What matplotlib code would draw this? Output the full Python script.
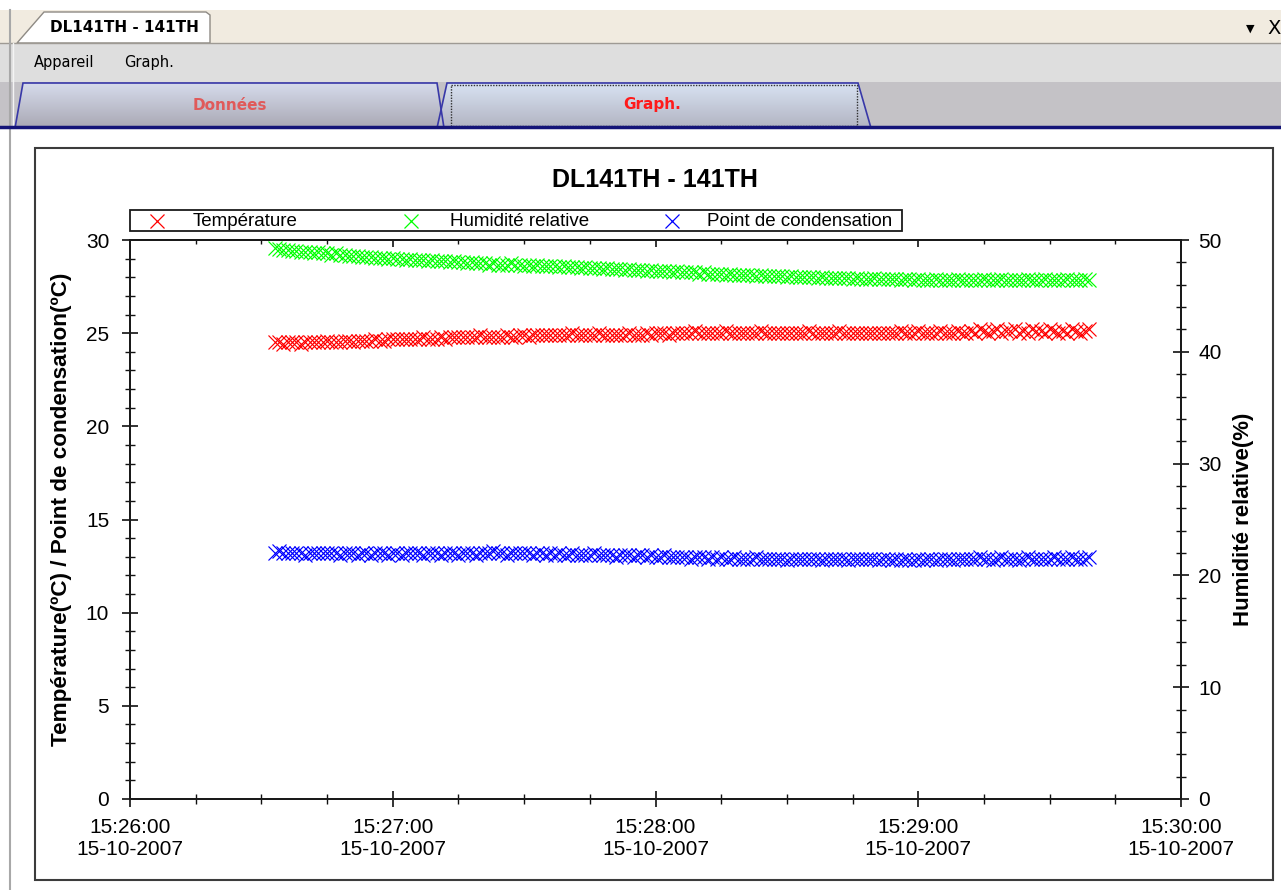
import numpy as np
import matplotlib
matplotlib.use("Agg")
import matplotlib.pyplot as plt
from matplotlib.patches import Polygon, Rectangle
from matplotlib.ticker import FixedLocator, MultipleLocator

plt.rcParams["font.family"] = ["Liberation Sans", "DejaVu Sans"]

# ---- data -------------------------------------------------------------
title = "DL141TH - 141TH"
series_names = ["Température", "Humidité relative", "Point de condensation"]
series_colors = ["#ff0000", "#00ff00", "#0000ff"]

# seconds after 15:26:00, one reading per second from 15:26:33
first_reading = 33
xtick_seconds = [0, 60, 120, 180, 240]
xtick_labels = ["15:26:00\n15-10-2007", "15:27:00\n15-10-2007", "15:28:00\n15-10-2007",
                "15:29:00\n15-10-2007", "15:30:00\n15-10-2007"]

temperature = [
    24.5, 24.5, 24.4, 24.5, 24.5, 24.5, 24.4, 24.5, 24.5, 24.5, 24.5, 24.5, 24.6, 24.5, 24.5, 24.5, 24.6, 24.6, 24.5, 24.6,
    24.6, 24.6, 24.6, 24.7, 24.6, 24.6, 24.7, 24.7, 24.7, 24.7, 24.7, 24.7, 24.7, 24.7, 24.8, 24.7, 24.7, 24.7, 24.8, 24.7,
    24.8, 24.8, 24.8, 24.8, 24.8, 24.8, 24.8, 24.9, 24.8, 24.8, 24.8, 24.8, 24.8, 24.9, 24.8, 24.8, 24.9, 24.9, 24.8, 24.9,
    24.9, 24.9, 24.9, 24.9, 24.9, 24.9, 24.9, 24.9, 25.0, 24.9, 24.9, 24.9, 24.9, 24.9, 25.0, 24.9, 24.9, 24.9, 24.9, 24.9,
    24.9, 25.0, 24.9, 24.9, 24.9, 25.0, 24.9, 25.0, 25.0, 25.0, 24.9, 25.0, 25.0, 25.0, 25.0, 25.0, 25.1, 25.0, 25.0, 25.0,
    25.0, 25.0, 25.0, 25.1, 25.0, 25.0, 25.0, 25.0, 25.0, 25.0, 25.0, 25.1, 25.0, 25.0, 25.0, 25.0, 25.0, 25.0, 25.0, 25.0,
    25.0, 25.0, 25.1, 25.0, 25.0, 25.0, 25.0, 25.0, 25.0, 25.1, 25.0, 25.0, 25.0, 25.0, 25.0, 25.0, 25.0, 25.0, 25.0, 25.0,
    25.0, 25.0, 25.0, 25.1, 25.0, 25.0, 25.0, 25.1, 25.0, 25.0, 25.0, 25.0, 25.1, 25.0, 25.0, 25.0, 25.1, 25.0, 25.0, 25.1,
    25.0, 25.2, 25.1, 25.0, 25.1, 25.2, 25.0, 25.1, 25.1, 25.2, 25.0, 25.1, 25.0, 25.2, 25.1, 25.1, 25.0, 25.2, 25.1, 25.0,
    25.1, 25.0, 25.2, 25.1, 25.0, 25.1, 25.2,
]

humidity = [
    49.3, 49.2, 49.1, 49.1, 49.0, 49.0, 48.9, 48.9, 48.9, 48.8, 48.9, 48.8, 48.8, 48.7, 48.8, 48.7, 48.7, 48.6, 48.6, 48.6,
    48.5, 48.5, 48.5, 48.4, 48.4, 48.4, 48.3, 48.4, 48.3, 48.3, 48.2, 48.3, 48.2, 48.2, 48.2, 48.1, 48.2, 48.1, 48.1, 48.1,
    48.0, 48.1, 48.0, 48.0, 47.9, 48.0, 47.9, 47.9, 47.9, 47.8, 47.9, 47.8, 47.8, 47.8, 47.9, 47.8, 47.8, 47.7, 47.8, 47.7,
    47.8, 47.7, 47.7, 47.7, 47.7, 47.6, 47.7, 47.6, 47.6, 47.6, 47.5, 47.6, 47.5, 47.5, 47.5, 47.4, 47.5, 47.4, 47.4, 47.4,
    47.3, 47.4, 47.3, 47.3, 47.3, 47.2, 47.3, 47.2, 47.2, 47.2, 47.2, 47.1, 47.2, 47.1, 47.1, 47.1, 47.1, 47.0, 47.1, 47.0,
    47.0, 47.0, 47.0, 46.9, 47.0, 46.9, 46.9, 46.9, 46.9, 46.9, 46.8, 46.9, 46.8, 46.8, 46.8, 46.8, 46.8, 46.7, 46.8, 46.7,
    46.7, 46.7, 46.7, 46.7, 46.6, 46.7, 46.6, 46.6, 46.6, 46.6, 46.6, 46.6, 46.5, 46.6, 46.5, 46.5, 46.5, 46.6, 46.5, 46.5,
    46.5, 46.5, 46.5, 46.4, 46.5, 46.5, 46.4, 46.5, 46.4, 46.4, 46.4, 46.5, 46.4, 46.4, 46.4, 46.4, 46.5, 46.4, 46.4, 46.4,
    46.4, 46.4, 46.5, 46.4, 46.4, 46.4, 46.5, 46.4, 46.4, 46.4, 46.4, 46.4, 46.5, 46.4, 46.4, 46.4, 46.5, 46.4, 46.4, 46.4,
    46.4, 46.5, 46.4, 46.4, 46.4, 46.5, 46.4,
]

dew_point = [
    13.2, 13.3, 13.2, 13.2, 13.2, 13.2, 13.2, 13.1, 13.2, 13.2, 13.2, 13.2, 13.2, 13.2, 13.2, 13.1, 13.2, 13.2, 13.2, 13.1,
    13.2, 13.2, 13.1, 13.2, 13.2, 13.2, 13.1, 13.2, 13.2, 13.1, 13.2, 13.2, 13.2, 13.2, 13.1, 13.2, 13.2, 13.2, 13.1, 13.2,
    13.2, 13.2, 13.1, 13.2, 13.2, 13.2, 13.1, 13.2, 13.2, 13.2, 13.3, 13.2, 13.2, 13.1, 13.2, 13.2, 13.2, 13.2, 13.2, 13.1,
    13.2, 13.2, 13.1, 13.2, 13.1, 13.2, 13.1, 13.1, 13.2, 13.1, 13.1, 13.1, 13.1, 13.2, 13.1, 13.1, 13.1, 13.1, 13.0, 13.1,
    13.1, 13.1, 13.0, 13.1, 13.1, 13.0, 13.1, 13.0, 13.0, 13.1, 13.0, 13.0, 13.0, 13.0, 13.0, 12.9, 13.0, 13.0, 13.0, 12.9,
    13.0, 12.9, 13.0, 12.9, 12.9, 13.0, 12.9, 12.9, 12.9, 12.9, 13.0, 12.9, 12.9, 12.9, 12.9, 12.9, 12.9, 12.8, 12.9, 12.9,
    12.9, 12.9, 12.9, 12.9, 12.9, 12.8, 12.9, 12.9, 12.9, 12.9, 12.9, 12.8, 12.9, 12.9, 12.9, 12.9, 12.9, 12.9, 12.8, 12.9,
    12.9, 12.8, 12.9, 12.8, 12.9, 12.8, 12.8, 12.9, 12.8, 12.9, 12.9, 12.8, 12.9, 12.9, 12.9, 12.8, 12.9, 12.9, 12.9, 12.9,
    12.9, 13.0, 12.9, 12.9, 12.8, 12.9, 13.0, 12.9, 12.9, 12.9, 12.8, 12.9, 13.0, 12.9, 12.9, 12.9, 12.9, 12.9, 13.0, 12.9,
    12.9, 12.9, 13.0, 12.9, 12.9, 12.9, 13.0,
]

# ---- figure + window chrome (pixel coordinates) -------------------------
W, H = 1281, 890
fig = plt.figure(figsize=(W / 100, H / 100), dpi=100)
bg = fig.add_axes([0, 0, 1, 1], zorder=0)
bg.set_xlim(0, W)
bg.set_ylim(H, 0)
bg.axis("off")


def px_box(x0, y0, x1, y1):
    return [x0 / W, 1 - y1 / H, (x1 - x0) / W, (y1 - y0) / H]


bg.add_patch(Rectangle((0, 10), W, 33, color="#f1ebe0", lw=0))
bg.add_patch(Rectangle((0, 43), W, 39, color="#dedede", lw=0))
bg.add_patch(Rectangle((0, 82), W, 46, color="#c4c2c6", lw=0))
bg.plot([0, W], [42.5, 42.5], color="#9e9a94", lw=1)
bg.plot([10, 10], [10, H], color="#a8a8a8", lw=1.5)
bg.plot([13, 13], [43, 128], color="#f4f4f4", lw=1)

# document tab
doc_tab = Polygon([(17, 43), (44, 12), (206, 12), (210, 15), (210, 43)],
                  closed=True, fc="white", ec="#8e8a84", lw=1)
bg.add_patch(doc_tab)
bg.text(124, 27, title, ha="center", va="center", fontsize=11, fontweight="bold",
        family="DejaVu Sans")
bg.text(1250, 29, "\u25bc", ha="center", va="center", fontsize=8, family="DejaVu Sans")
bg.text(1274, 28, "X", ha="center", va="center", fontsize=14, family="DejaVu Sans")

# menu
bg.text(34, 62, "Appareil", ha="left", va="center", fontsize=10.5, family="DejaVu Sans")
bg.text(124, 62, "Graph.", ha="left", va="center", fontsize=10.5, family="DejaVu Sans")

# page tabs with a vertical gradient
grad = np.linspace(0, 1, 64).reshape(-1, 1)
tabs = [
    ([(15, 128), (23, 83), (437, 83), (444, 128)], "Données", "#e05a5a", ("#d6dbeb", "#a9a8b4")),
    ([(437, 128), (447, 83), (858, 83), (871, 128)], "Graph.", "#ff1a1a", ("#d8e2f2", "#b2b4c2")),
]
for pts, label, tcol, (c_top, c_bot) in tabs:
    cmap = matplotlib.colors.LinearSegmentedColormap.from_list("tab", [c_top, c_bot])
    poly = Polygon(pts, closed=True, fc="none", ec="#3838a8", lw=1.2, zorder=3)
    bg.add_patch(poly)
    xs = [p[0] for p in pts]
    im = bg.imshow(grad, cmap=cmap, aspect="auto", extent=(min(xs), max(xs), 128, 83),
                   zorder=2)
    im.set_clip_path(poly)
    bg.text((xs[1] + xs[2]) / 2, 105, label, ha="center", va="center", fontsize=11,
            fontweight="bold", color=tcol, family="DejaVu Sans", zorder=4)
bg.add_patch(Rectangle((451, 85), 406, 41, fc="none", ec="#303030", lw=1,
                       ls=(0, (1, 1)), zorder=4))
bg.plot([0, W], [127, 127], color="#141478", lw=2.5, zorder=5)
bg.set_xlim(0, W)
bg.set_ylim(H, 0)

# chart frame, title, legend, axis titles
bg.add_patch(Rectangle((35, 148), 1238, 732, fc="white", ec="#3c3c3c", lw=1.5, zorder=1))
bg.text(655, 180, title, ha="center", va="center", fontsize=18, fontweight="bold", zorder=6)

bg.add_patch(Rectangle((130, 210), 772, 21, fc="white", ec="#1a1a1a", lw=1.3, zorder=6))
for mx, tx, name, col in zip([157, 411, 672], [193, 450, 707], series_names, series_colors):
    bg.plot(mx, 220.5, ls="none", marker="x", ms=10, mew=0.9, color=col, zorder=7)
    bg.text(tx, 221, name, ha="left", va="center", fontsize=13.5, zorder=7)

bg.text(62, 509, "Température(ºC) / Point de condensation(ºC)", rotation=90,
        ha="center", va="center", fontsize=16.2, fontweight="bold", zorder=6)
bg.text(1243, 519, "Humidité relative(%)", rotation=90, ha="center", va="center",
        fontsize=16, fontweight="bold", zorder=6)

# ---- plot axes -----------------------------------------------------------
ax = fig.add_axes(px_box(130, 240, 1181, 799), zorder=2)
ax.patch.set_alpha(0)
ax2 = ax.twinx()
top = ax.twiny()

t = first_reading + np.arange(len(temperature))
ax.plot(t, temperature, ls="none", marker="x", ms=9.5, mew=0.85, color=series_colors[0])
ax.plot(t, dew_point, ls="none", marker="x", ms=9.5, mew=0.85, color=series_colors[2])
ax2.plot(t, humidity, ls="none", marker="x", ms=9.5, mew=0.85, color=series_colors[1])

ax.set_xlim(0, 240)
top.set_xlim(0, 240)
ax.set_ylim(0, 30)
ax2.set_ylim(0, 50)

ax.xaxis.set_major_locator(FixedLocator(xtick_seconds))
ax.set_xticklabels(xtick_labels)
ax.xaxis.set_minor_locator(MultipleLocator(15))
top.xaxis.set_major_locator(FixedLocator(xtick_seconds))
top.xaxis.set_minor_locator(MultipleLocator(15))
ax.yaxis.set_major_locator(MultipleLocator(5))
ax.yaxis.set_minor_locator(MultipleLocator(1))
ax2.yaxis.set_major_locator(MultipleLocator(10))
ax2.yaxis.set_minor_locator(MultipleLocator(2))

tick_col = "#111111"
ax.tick_params(axis="x", which="major", direction="inout", length=11, width=1.2,
               color=tick_col, labelsize=15, pad=8)
ax.tick_params(axis="x", which="minor", direction="inout", length=7, width=1.0, color=tick_col)
ax.tick_params(axis="y", which="major", direction="inout", length=12, width=1.2,
               color=tick_col, labelsize=15, pad=9)
ax.tick_params(axis="y", which="minor", direction="inout", length=7, width=1.0, color=tick_col)
ax2.tick_params(axis="y", which="major", direction="inout", length=12, width=1.2,
                color=tick_col, labelsize=15, pad=6.5)
ax2.tick_params(axis="y", which="minor", direction="inout", length=7, width=1.0, color=tick_col)
top.tick_params(axis="x", which="major", direction="in", length=5, width=1.2, color=tick_col,
                labeltop=False)
top.tick_params(axis="x", which="minor", direction="in", length=3, width=1.0, color=tick_col)

for a in (ax, ax2, top):
    for s in a.spines.values():
        s.set_linewidth(1.3)
        s.set_color("#1a1a1a")

fig.savefig("out.png", dpi=100)
